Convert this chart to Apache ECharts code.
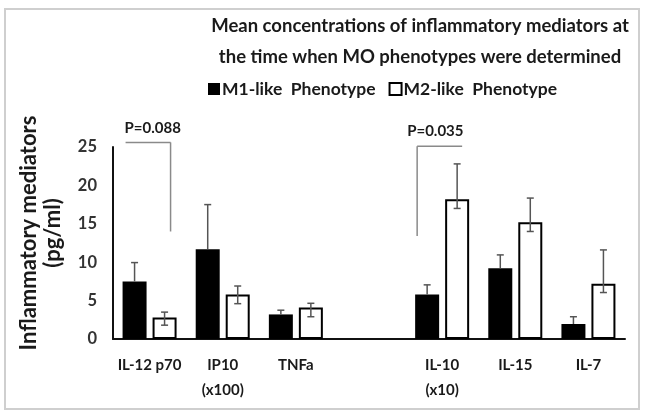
<!DOCTYPE html>
<html>
<head>
<meta charset="utf-8">
<script src="https://cdn.jsdelivr.net/npm/echarts@6/dist/echarts.min.js"></script>
<style>html,body{margin:0;padding:0;background:#fff}#c{width:645px;height:416px}</style>
</head>
<body>
<div id="c"></div>
<script>
var categories = ['IL-12 p70', 'IP10\n(x100)', 'TNFa', '', 'IL-10\n(x10)', 'IL-15', 'IL-7'];
var m1Values = [7.5, 11.7, 3.2, null, 5.8, 9.2, 1.95];
var m1ErrUp = [2.45, 5.8, 0.55, null, 1.25, 1.75, 0.95];
var m2Values = [2.8, 5.8, 4.1, null, 18.2, 15.2, 7.2];
var m2ErrUp = [0.7, 1.1, 0.55, null, 4.6, 3.15, 4.4];
var m2ErrDown = [1.0, 1.2, 1.2, null, 1.2, 1.2, 1.15];
var yTicks = [0, 5, 10, 15, 20, 25];
var pLabels = ['P=0.088', 'P=0.035'];
var pCategories = [0, 4];
var yAxisTitle = 'Inflammatory mediators\n(pg/ml)';

var FONT = 'Lato';
var BAR_W = 24, BAR_GAP = 6;
var OFF = (BAR_W + BAR_GAP) / 2;

var chart = echarts.init(document.getElementById('c'), null, {renderer: 'canvas'});

function errSeries(name, vals, up, down, sign) {
  var data = [];
  for (var i = 0; i < vals.length; i++) {
    if (vals[i] == null) continue;
    data.push([i, vals[i], up[i], down ? down[i] : 0]);
  }
  return {
    type: 'custom', name: name + ' err', z: 10, silent: true,
    data: data,
    renderItem: function (params, api) {
      var idx = api.value(0), v = api.value(1), eu = api.value(2), ed = api.value(3);
      var c = api.coord([idx, v]);
      var x = c[0] + sign * OFF;
      var top = api.coord([idx, v + eu])[1];
      var bot = api.coord([idx, v - ed])[1];
      var st = {stroke: '#555', lineWidth: 1.5};
      var children = [
        {type: 'line', shape: {x1: x, y1: top, x2: x, y2: bot}, style: st},
        {type: 'line', shape: {x1: x - 3.5, y1: top, x2: x + 3.5, y2: top}, style: st}
      ];
      if (ed > 0) children.push({type: 'line', shape: {x1: x - 3.5, y1: bot, x2: x + 3.5, y2: bot}, style: st});
      return {type: 'group', children: children};
    }
  };
}

chart.setOption({
  animation: false,
  textStyle: {fontFamily: FONT},
  title: {
    text: 'Mean concentrations of inflammatory mediators at\nthe time when MO phenotypes were determined',
    left: 415, top: 6, textAlign: 'center',
    textStyle: {fontFamily: FONT, fontSize: 18.5, fontWeight: 'bold', color: '#1a1a1a', lineHeight: 31}
  },
  legend: {
    data: ['M1-like  Phenotype', 'M2-like  Phenotype'],
    left: 203, top: 75, icon: 'rect', itemWidth: 12, itemHeight: 12, itemGap: 13,
    textStyle: {fontFamily: FONT, fontSize: 17.5, fontWeight: 'bold', color: '#1a1a1a', padding: [0, 0, 0, -3]}
  },
  grid: {left: 113, right: 20, top: 147, bottom: 77},
  xAxis: {
    type: 'category', data: categories,
    axisTick: {show: false},
    axisLine: {lineStyle: {color: '#111', width: 2}},
    axisLabel: {margin: 14, fontSize: 15, fontWeight: 'bold', color: '#1a1a1a', lineHeight: 25, interval: 0}
  },
  yAxis: {
    type: 'value', min: yTicks[0], max: yTicks[yTicks.length - 1], interval: 5,
    axisLine: {show: true, lineStyle: {color: '#111', width: 2}},
    axisTick: {show: false},
    splitLine: {show: false},
    axisLabel: {margin: 16, fontSize: 16.5, fontWeight: 'bold', color: '#333'}
  },
  series: [
    {name: 'M1-like  Phenotype', type: 'bar', data: m1Values, barWidth: BAR_W, barGap: (BAR_GAP / BAR_W * 100) + '%',
     itemStyle: {color: '#000', borderColor: '#000', borderWidth: 0}},
    {name: 'M2-like  Phenotype', type: 'bar', data: m2Values, barWidth: BAR_W,
     itemStyle: {color: '#fff', borderColor: '#000', borderWidth: 2}},
    errSeries('m1', m1Values, m1ErrUp, null, -1),
    errSeries('m2', m2Values, m2ErrUp, m2ErrDown, 1)
  ]
});

function addAnnotations() {
  var els = [{type: 'rect', shape: {x: 5, y: 9, width: 634, height: 400},
              style: {fill: null, stroke: '#cfcfcf', lineWidth: 2}, silent: true}];
  els.push({type: 'text', x: 41, y: 233, rotation: Math.PI / 2,
            style: {text: yAxisTitle, font: 'bold 22px "' + FONT + '"', fill: '#1a1a1a',
                    textAlign: 'center', textVerticalAlign: 'middle', lineHeight: 24}});
  var lineSt = {stroke: '#8a8a8a', lineWidth: 1.5};
  var font = 'bold 15px "' + FONT + '"';
  var c0 = chart.convertToPixel({xAxisIndex: 0, yAxisIndex: 0}, [pCategories[0], 25.6]);
  var c0b = chart.convertToPixel({xAxisIndex: 0, yAxisIndex: 0}, [pCategories[0], 14]);
  var xr = c0[0] + OFF + 6;
  els.push({type: 'line', shape: {x1: c0[0] - 24, y1: c0[1], x2: xr, y2: c0[1]}, style: lineSt});
  els.push({type: 'line', shape: {x1: xr, y1: c0[1], x2: xr, y2: c0b[1]}, style: lineSt});
  els.push({type: 'text', x: c0[0] - 25, y: c0[1] - 14,
            style: {text: pLabels[0], font: font, fill: '#1a1a1a', textVerticalAlign: 'middle'}});
  var c1 = chart.convertToPixel({xAxisIndex: 0, yAxisIndex: 0}, [pCategories[1], 25.1]);
  var c1b = chart.convertToPixel({xAxisIndex: 0, yAxisIndex: 0}, [pCategories[1], 13.4]);
  var xl = c1[0] - 25;
  els.push({type: 'line', shape: {x1: xl, y1: c1[1], x2: c1[0] + 20, y2: c1[1]}, style: lineSt});
  els.push({type: 'line', shape: {x1: xl, y1: c1[1], x2: xl, y2: c1b[1]}, style: lineSt});
  els.push({type: 'text', x: xl - 10, y: c1[1] - 15,
            style: {text: pLabels[1], font: font, fill: '#1a1a1a', textVerticalAlign: 'middle'}});
  chart.setOption({graphic: els});
}
addAnnotations();
</script>
</body>
</html>
